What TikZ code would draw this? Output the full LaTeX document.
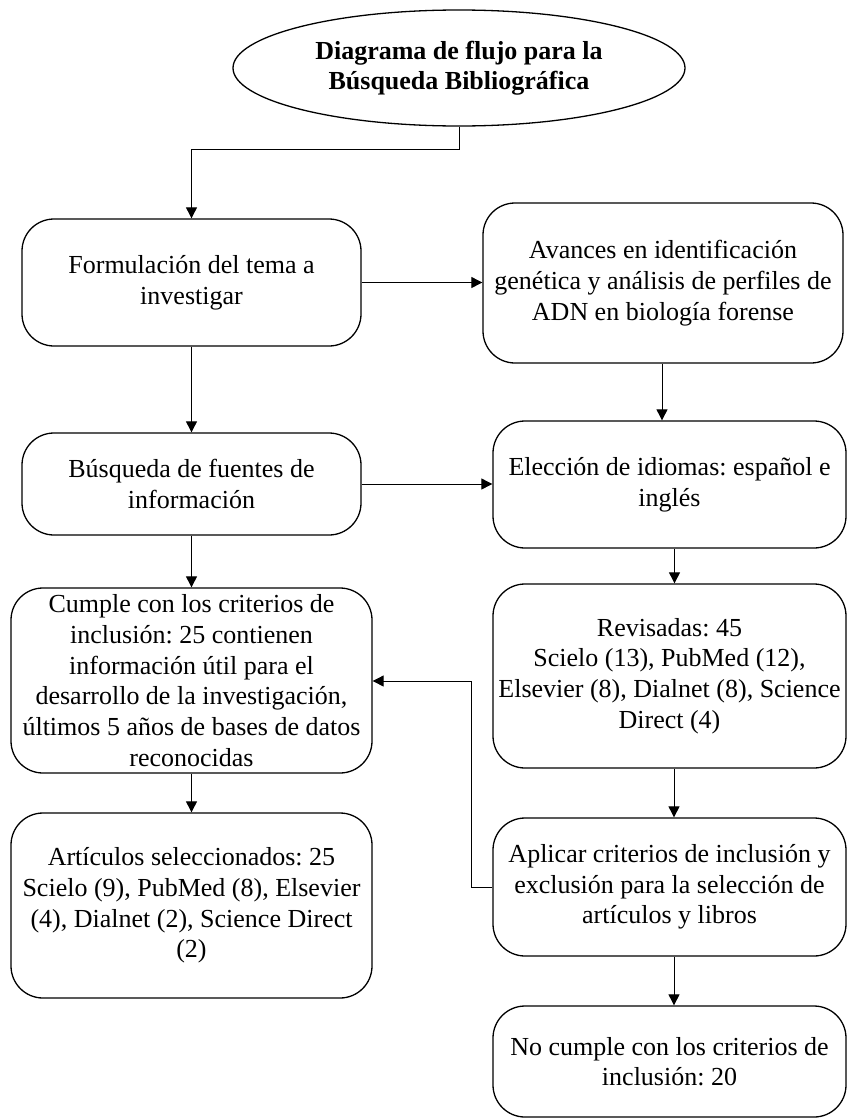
\documentclass[tikz,border=0pt]{standalone}
\usepackage{fontspec}
\setmainfont{Liberation Serif}
\usetikzlibrary{shapes.geometric,arrows.meta}
\tikzset{
  box/.style={draw=black, line width=1.3pt, rounded corners=32pt, align=center,
    inner sep=0pt, font=\fontsize{26}{30.7}\selectfont\frenchspacing},
  titleshape/.style={ellipse, draw=black, line width=1.3pt, align=center,
    inner sep=0pt, font=\fontsize{26}{30.5}\selectfont\bfseries},
  arr/.style={draw=black, line width=0.9pt, -{Triangle[length=11pt,width=11pt]}},
  plain/.style={draw=black, line width=0.9pt}
}
\begin{document}
\begin{tikzpicture}[x=1pt,y=-1pt]
\useasboundingbox (0,0) rectangle (848,1119);

\node[titleshape, minimum width=452pt, minimum height=116pt] (title) at (459,68)
  {Diagrama de flujo para la\\Búsqueda Bibliográfica};

\node[box, minimum width=339pt, minimum height=127pt] (b1) at (191.5,282.5)
  {Formulación del tema a\\investigar};
\node[box, minimum width=360pt, minimum height=160pt] (b2) at (663,283)
  {Avances en identificación\\genética y análisis de perfiles de\\ADN en biología forense};
\node[box, minimum width=339pt, minimum height=102pt] (b3) at (191.5,484)
  {Búsqueda de fuentes de\\información};
\node[box, minimum width=353pt, minimum height=127pt] (b4) at (669.5,484.5)
  {Elección de idiomas: español e\\inglés};
\node[box, minimum width=361pt, minimum height=185pt] (b5) at (191.5,680.5)
  {Cumple con los criterios de\\inclusión: 25 contienen\\información útil para el\\desarrollo de la investigación,\\últimos 5 años de bases de datos\\reconocidas};
\node[box, minimum width=353pt, minimum height=184pt] (b6) at (669.5,676)
  {Revisadas: 45\\Scielo (13), PubMed (12),\\Elsevier (8), Dialnet (8), Science\\Direct (4)};
\node[box, minimum width=361pt, minimum height=185pt] (b7) at (191.5,905.5)
  {Artículos seleccionados: 25\\Scielo (9), PubMed (8), Elsevier\\(4), Dialnet (2), Science Direct\\(2)};
\node[box, minimum width=353pt, minimum height=138pt] (b8) at (669.5,887)
  {Aplicar criterios de inclusión y\\exclusión para la selección de\\artículos y libros};
\node[box, minimum width=353pt, minimum height=111pt] (b9) at (669.5,1061.5)
  {No cumple con los criterios de\\inclusión: 20};

\coordinate (t1) at (0,149);
\coordinate (fb) at (471,681);

\draw[arr] (title.south) |- (b1.north |- t1) -- (b1.north);
\draw[arr] (b1.east) -- (b1.east -| b2.west);
\draw[arr] (b1.south) -- (b3.north);
\draw[arr] ([xshift=-1pt]b2.south) -- ([xshift=-1pt]b2.south |- b4.north);
\draw[arr] (b3.east) -- (b3.east -| b4.west);
\draw[arr] (b3.south) -- (b5.north);
\draw[arr] ([xshift=5pt]b4.south) -- ([xshift=5pt]b4.south |- b6.north);
\draw[arr] (b5.south) -- (b7.north);
\draw[arr] ([xshift=4.5pt]b6.south) -- ([xshift=4.5pt]b6.south |- b8.north);
\draw[arr] (b8.west) -| (fb) -- (fb -| b5.east);
\draw[arr] ([xshift=4.5pt]b8.south) -- ([xshift=4.5pt]b8.south |- b9.north);
\end{tikzpicture}
\end{document}
